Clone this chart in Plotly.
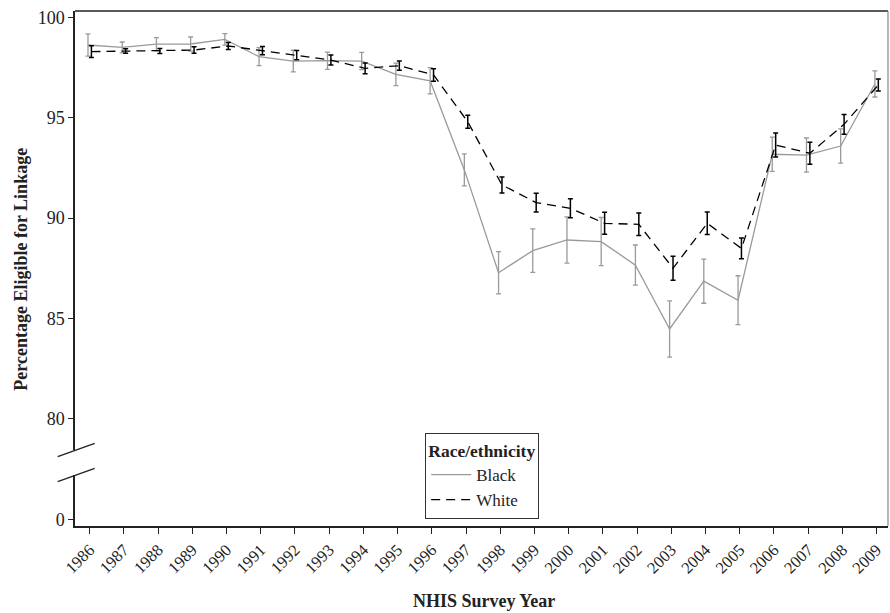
import plotly.graph_objects as go

years = list(range(1986, 2010))
black_vals = [98.62, 98.50, 98.66, 98.67, 98.90, 98.04, 97.82, 97.84, 97.82, 97.16, 96.84, 92.40,
              87.28, 88.38, 88.91, 88.83, 87.66, 84.48, 86.86, 85.91, 93.18, 93.14, 93.59, 96.68]
black_err = [0.55, 0.27, 0.33, 0.35, 0.29, 0.45, 0.54, 0.43, 0.43, 0.56, 0.65, 0.80,
             1.05, 1.08, 1.15, 1.20, 1.00, 1.40, 1.10, 1.22, 0.85, 0.85, 0.85, 0.65]
white_vals = [98.29, 98.32, 98.32, 98.37, 98.57, 98.34, 98.12, 97.87, 97.46, 97.59, 97.13, 94.80,
              91.65, 90.77, 90.49, 89.74, 89.69, 87.50, 89.74, 88.49, 93.64, 93.23, 94.67, 96.63]
white_err = [0.29, 0.11, 0.12, 0.16, 0.17, 0.20, 0.23, 0.25, 0.27, 0.23, 0.31, 0.32,
             0.40, 0.47, 0.47, 0.55, 0.56, 0.60, 0.56, 0.52, 0.60, 0.55, 0.49, 0.30]
upper_ticks = [80, 85, 90, 95, 100]
lower_ticks = [0]
dodge = 0.05

serif = "Liberation Serif"

fig = go.Figure()
# placeholder on the lower (broken-off) axis so that its subplot is drawn
fig.add_trace(go.Scatter(x=[years[0]], y=[None], xaxis="x", yaxis="y", mode="lines",
                         showlegend=False, hoverinfo="skip"))
fig.add_trace(go.Scatter(
    x=[y - dodge for y in years], y=black_vals, xaxis="x", yaxis="y2", name="Black", mode="lines",
    line=dict(color="#9a9a9a", width=1.3),
    error_y=dict(type="data", array=black_err, color="#9a9a9a", thickness=1.3, width=2.5),
))
fig.add_trace(go.Scatter(
    x=[y + dodge for y in years], y=white_vals, xaxis="x", yaxis="y2", name="White", mode="lines",
    line=dict(color="#000000", width=1.3, dash="9px,6px"),
    error_y=dict(type="data", array=white_err, color="#000000", thickness=1.5, width=2.5),
))

W, H = 890, 613
L, R, T, B = 75.3, 888, 11, 526
pw, ph = R - L, B - T

def px(x):
    return (x - L) / pw

def py(y):
    return (B - y) / ph

up_bottom = 450
lo_top = 475
upper_min = 100 - (up_bottom - 17.3) / 20.08
upper_max = 100 + (17.3 - T) / 20.08
lo_scale = 20.08
lower_min = -(B - 519.3) / lo_scale
lower_max = lower_min + (B - lo_top) / lo_scale

fig.update_layout(
    width=W, height=H,
    margin=dict(l=L, r=W - R, t=T, b=H - B, autoexpand=False),
    paper_bgcolor="white", plot_bgcolor="white",
    font=dict(family=serif, color="#222222", size=17),
    showlegend=True,
    legend=dict(
        x=px(482), y=py(519), xanchor="center", yanchor="bottom",
        bordercolor="#333333", borderwidth=1.3, bgcolor="white",
        title=dict(text="<b>Race/ethnicity</b>", side="top center", font=dict(family=serif, size=17.5, color="#222")),
        font=dict(family=serif, size=17, color="#222"),
        itemwidth=40, tracegroupgap=0,
    ),
    xaxis=dict(
        range=[1986 - (90 - L) / 34.2, 2009 + (R - 876.6) / 34.2],
        tickvals=years, ticktext=[str(y) for y in years],
        tickangle=-45, ticks="outside", ticklen=6, tickcolor="#222", tickwidth=1.3,
        showline=True, linecolor="#222", linewidth=1.5, showgrid=False, zeroline=False,
        tickfont=dict(family=serif, size=16.5, color="#222"),
        anchor="y", automargin=False,
    ),
    yaxis=dict(
        domain=[0, py(lo_top)], range=[lower_min, lower_max],
        tickvals=lower_ticks, ticks="outside", ticklen=5, tickcolor="#222", tickwidth=1.3,
        showline=True, linecolor="#222", linewidth=1.5, showgrid=False, zeroline=False,
        tickfont=dict(family=serif, size=18, color="#222"), automargin=False,
    ),
    yaxis2=dict(
        domain=[py(up_bottom), 1], range=[upper_min, upper_max],
        tickvals=upper_ticks, ticks="outside", ticklen=5, tickcolor="#222", tickwidth=1.3,
        showline=True, linecolor="#222", linewidth=1.5, showgrid=False, zeroline=False,
        tickfont=dict(family=serif, size=18, color="#222"),
        anchor="x", automargin=False,
    ),
)

fig.add_shape(type="line", xref="paper", yref="paper", x0=0, x1=1, y0=1, y1=1,
              line=dict(color="#222", width=1.5))
fig.add_shape(type="line", xref="paper", yref="paper", x0=1, x1=1, y0=0, y1=1,
              line=dict(color="#888", width=1.2))
for (x0, y0, x1, y1) in [(58, 456.7, 95, 443.3), (58, 481.7, 95, 468.3)]:
    fig.add_shape(type="line", xref="paper", yref="paper",
                  x0=px(x0), y0=py(y0), x1=px(x1), y1=py(y1),
                  line=dict(color="#222", width=1.3))

fig.add_annotation(text="<b>Percentage Eligible for Linkage</b>", xref="paper", yref="paper",
                   x=px(21), y=py(269), xanchor="center", yanchor="middle",
                   textangle=-90, showarrow=False,
                   font=dict(family=serif, size=18, color="#222"))
fig.add_annotation(text="<b>NHIS Survey Year</b>", xref="paper", yref="paper",
                   x=px(484), y=py(601), xanchor="center", yanchor="middle", showarrow=False,
                   font=dict(family=serif, size=18, color="#222"))

fig.write_html("out.html", config={"displayModeBar": False},
               post_script="document.body.style.margin='0';document.body.style.overflow='hidden';")
